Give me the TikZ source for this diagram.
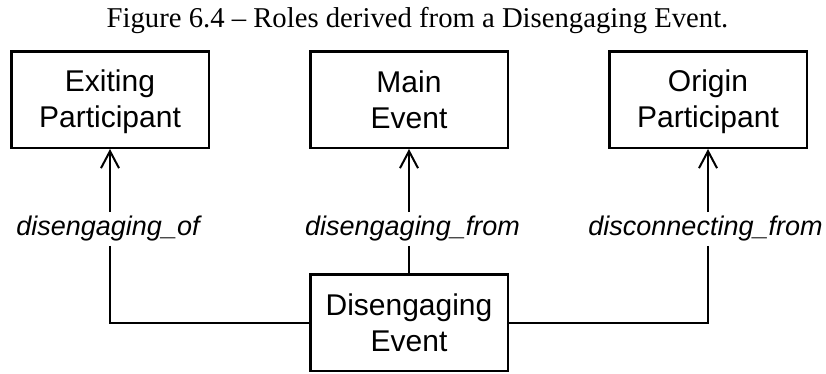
\documentclass[tikz,border=0pt]{standalone}
\usepackage{fontspec}
\setmainfont{Liberation Sans}
\newfontfamily\captionfont{Liberation Serif}
\usetikzlibrary{arrows.meta}
% equal height and depth for every line inside a box
\newcommand\boxstrut{\rule[-4pt]{0pt}{30pt}}
\begin{document}
\begin{tikzpicture}[x=1pt,y=-1pt,
  box/.style={draw, line width=2.5pt, minimum width=197.5pt, minimum height=96.5pt,
    inner sep=0pt, align=center, font=\fontsize{30}{36}\selectfont},
  role/.style={font=\fontsize{27}{30}\selectfont\itshape, inner sep=4pt},
  link/.style={line width=2pt},
  arr/.style={link, -{Straight Barb[length=17pt, width=18pt]}}]
\useasboundingbox (0,0) rectangle (826,373);

% caption
\node[font=\captionfont\fontsize{28.7}{30}\selectfont, anchor=base, inner sep=0pt]
  (caption) at (417.5,27) {Figure 6.4 – Roles derived from a Disengaging Event.};

% role boxes
\node[box] (exit)   at (110,99.5)  {\boxstrut Exiting\\\boxstrut Participant};
\node[box] (main)   at (409,99.5)  {\boxstrut Main\\\boxstrut Event};
\node[box] (origin) at (708,99.5)  {\boxstrut Origin\\\boxstrut Participant};
\node[box] (event)  at (409,322.5) {\boxstrut Disengaging\\\boxstrut Event};

% relation labels
\node[role] (of)   at (108,229)   {disengaging\_of};
\node[role] (from) at (412.5,229) {disengaging\_from};
\node[role] (disc) at (705.5,229) {disconnecting\_from};

% connectors
\draw[arr]  (exit.south |- of.north) -- (exit.south);
\draw[link] (exit.south |- of.south) |- (event.west);
\draw[arr]  (main.south |- from.north) -- (main.south);
\draw[link] (main.south |- from.south) -- (event.north);
\draw[arr]  (origin.south |- disc.north) -- (origin.south);
\draw[link] (origin.south |- disc.south) |- (event.east);
\end{tikzpicture}
\end{document}
